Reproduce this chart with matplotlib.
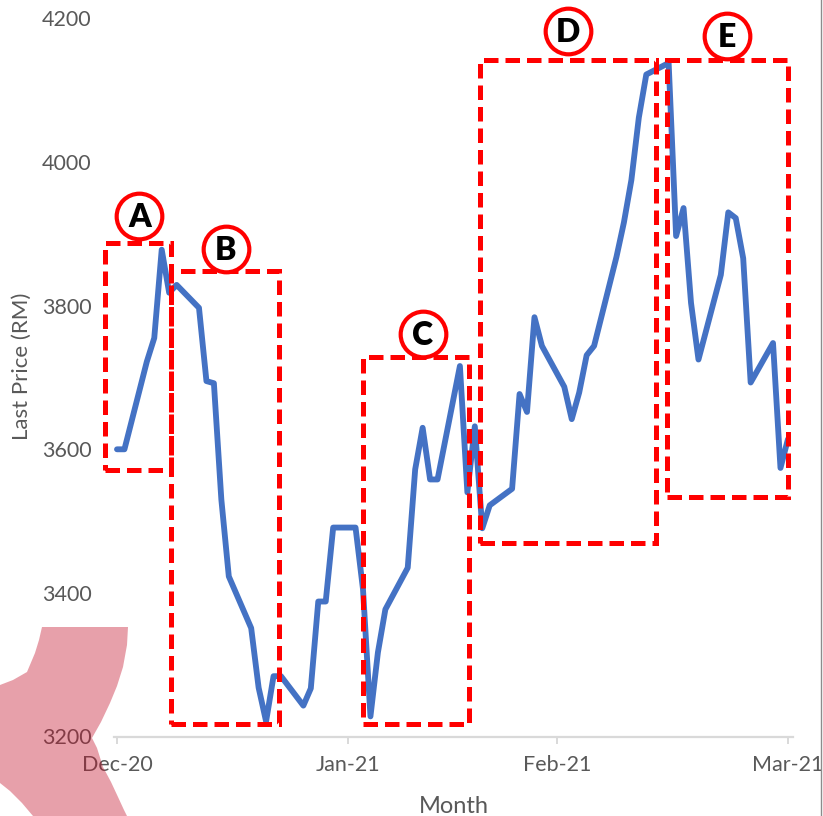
import matplotlib
matplotlib.use("Agg")
import matplotlib.pyplot as plt
from matplotlib.patches import Rectangle, Polygon
from matplotlib.lines import Line2D

plt.rcParams['font.family'] = ['Lato', 'DejaVu Sans']

# daily last price, day counted from 3 Dec 2020
days = [0, 1, 4, 5, 6, 7, 8, 11, 12, 13, 14, 15, 18, 19, 20, 21, 22, 25, 26, 27,
        28, 29, 32, 33, 34, 35, 36, 39, 40, 41, 42, 43, 46, 47, 48, 49, 50, 53, 54,
        55, 56, 57, 60, 61, 62, 63, 64, 67, 68, 69, 70, 71, 74, 75, 76, 77, 78, 81,
        82, 83, 84, 85, 88, 89, 90]
prices = [3600, 3600, 3722, 3755, 3878, 3818, 3829, 3797, 3695, 3692, 3530, 3423,
          3351, 3268, 3221, 3284, 3284, 3243, 3267, 3388, 3388, 3491, 3491, 3405,
          3228, 3317, 3377, 3435, 3572, 3630, 3558, 3558, 3716, 3540, 3632, 3490,
          3522, 3545, 3677, 3652, 3784, 3744, 3687, 3642, 3679, 3731, 3744, 3868,
          3916, 3975, 4062, 4122, 4138, 3897, 3936, 3804, 3725, 3843, 3930, 3922,
          3866, 3693, 3748, 3574, 3614]

month_ticks = [0, 31, 59, 90]
month_labels = ['Dec-20', 'Jan-21', 'Feb-21', 'Mar-21']
price_ticks = [3200, 3400, 3600, 3800, 4000, 4200]

# highlighted phases: (label, x0, x1, y0, y1, label_x, label_y)
zones = [
    ('A', -1.6, 7.2, 3571, 3887, 3.0, 3925),
    ('B', 7.2, 21.7, 3217, 3848, 14.6, 3879),
    ('C', 33.0, 47.2, 3217, 3729, 41.0, 3761),
    ('D', 48.7, 72.3, 3470, 4142, 60.5, 4182),
    ('E', 73.8, 90.0, 3534, 4142, 81.8, 4175),
]

W, H = 823, 816
fig = plt.figure(figsize=(W / 100, H / 100), dpi=100)
ax = fig.add_axes([114 / W, 1 - 736.5 / H, (793 - 114) / W, (736.5 - 18.5) / H])

grey = '#595959'
ax.plot(days, prices, color='#4472C4', lw=4.2, solid_joinstyle='round',
        solid_capstyle='round', zorder=3)

for name, x0, x1, y0, y1, lx, ly in zones:
    ax.add_patch(Rectangle((x0, y0), x1 - x0, y1 - y0, fill=False,
                           edgecolor='#FF0000', lw=3.6, linestyle=(0, (2.9, 1.4)),
                           clip_on=False, zorder=4))
    ax.scatter([lx], [ly], s=1080, facecolor='white', edgecolor='#FF0000',
               linewidths=3.0, clip_on=False, zorder=5)
    ax.text(lx, ly - 2, name, ha='center', va='center', fontsize=23,
            fontweight='heavy', color='black', zorder=6)

ax.set_xlim(-0.4, 90.68)
ax.set_ylim(3200, 4200)
ax.set_xticks(month_ticks)
ax.set_xticklabels(month_labels)
ax.set_yticks(price_ticks)
for s in ['top', 'right', 'left']:
    ax.spines[s].set_visible(False)
ax.spines['bottom'].set_color('#D9D9D9')
ax.spines['bottom'].set_linewidth(1.6)
ax.tick_params(axis='x', direction='out', length=5, width=1.4, color='#D9D9D9',
               labelsize=15.5, labelcolor=grey, pad=8)
ax.tick_params(axis='y', length=0, labelsize=15.5, labelcolor=grey, pad=16)

fig.text(22 / W, 1 - 366 / H, 'Last Price (RM)', rotation=90, ha='center',
         va='center', fontsize=16, color=grey)
fig.text(454 / W, 1 - 813 / H, 'Month', ha='center', va='baseline',
         fontsize=17, color=grey)

# decorative shape in the lower left corner
shape_px = [(42, 627), (128, 627), (127, 645), (123, 667), (117, 686), (110, 703),
            (101, 722), (92, 738), (97, 748), (103, 767), (111, 782), (118, 797),
            (124, 810), (127, 816), (33, 816), (22, 803), (10, 791), (0, 783),
            (0, 685), (13, 680), (27, 672), (35, 653), (39, 640)]
shape = Polygon([(x / W, 1 - y / H) for x, y in shape_px], closed=True,
                transform=fig.transFigure, facecolor='#C3122B', alpha=0.4,
                edgecolor='none', zorder=10)
fig.add_artist(shape)

fig.add_artist(Line2D([820.5 / W, 820.5 / W], [0, 1], transform=fig.transFigure,
                      color='#8C8C8C', lw=1.0, zorder=10))

fig.savefig('out.png', dpi=100, facecolor='white')
